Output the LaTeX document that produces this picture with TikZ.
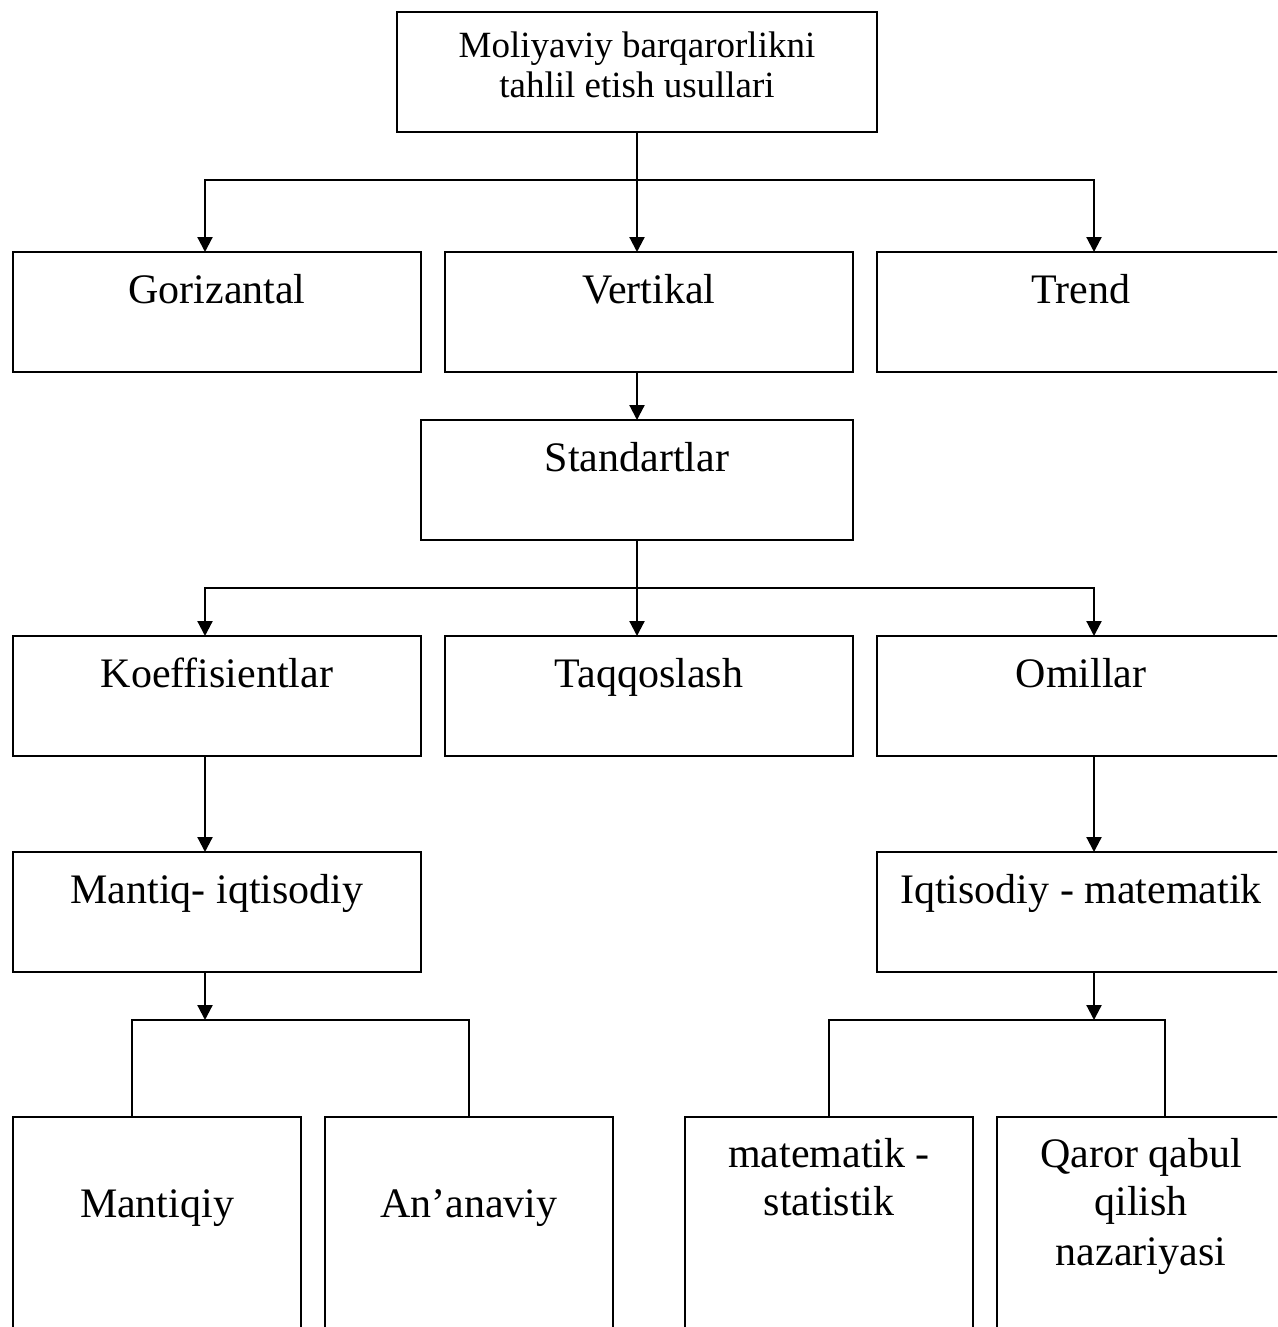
\documentclass[tikz,border=0pt]{standalone}
\usepackage{fontspec}
\setmainfont{Liberation Serif}
\usetikzlibrary{arrows.meta}
\begin{document}
\begin{tikzpicture}[x=1pt,y=-1pt, line width=2.5pt,
  box/.style={draw, rectangle, anchor=north west, inner sep=0pt, outer sep=0pt},
  wbox/.style={box, minimum width=408pt, minimum height=120pt},
  sbox/.style={box, minimum width=288pt, minimum height=260pt},
  lbl/.style={anchor=base, inner sep=0pt, font=\fontsize{42}{48}\selectfont},
  tlbl/.style={anchor=base, inner sep=0pt, font=\fontsize{37}{42}\selectfont},
  arr/.style={-{Triangle[length=15pt,width=15pt]}, line width=2.2pt},
  ln/.style={line width=2.2pt}]
\useasboundingbox (0,0) rectangle (1277,1327);
\clip (0,0) rectangle (1277,1327);

% boxes
\node[box, minimum width=480pt, minimum height=120pt] (top) at (397,12) {};
\node[wbox] (gor) at (13,252) {};
\node[wbox] (ver) at (445,252) {};
\node[wbox] (tre) at (877,252) {};
\node[box, minimum width=432pt, minimum height=120pt] (std) at (421,420) {};
\node[wbox] (koe) at (13,636) {};
\node[wbox] (taq) at (445,636) {};
\node[wbox] (omi) at (877,636) {};
\node[wbox] (man) at (13,852) {};
\node[wbox] (iqt) at (877,852) {};
\node[sbox] (mq) at (13,1117) {};
\node[sbox] (an) at (325,1117) {};
\node[sbox] (ms) at (685,1117) {};
\node[sbox] (qq) at (997,1117) {};

% texts
\node[tlbl] (t0a) at ([yshift=-46pt]top.north) {Moliyaviy barqarorlikni};
\node[tlbl] (t0b) at ([yshift=-86pt]top.north) {tahlil etish usullari};
\node[lbl] (t1) at ([yshift=-51pt]gor.north) {Gorizantal};
\node[lbl] (t2) at ([yshift=-51pt]ver.north) {Vertikal};
\node[lbl] (t3) at ([yshift=-51pt]tre.north) {Trend};
\node[lbl] (t4) at ([yshift=-51pt]std.north) {Standartlar};
\node[lbl] (t5) at ([yshift=-51pt]koe.north) {Koeffisientlar};
\node[lbl] (t6) at ([yshift=-51pt]taq.north) {Taqqoslash};
\node[lbl] (t7) at ([yshift=-51pt]omi.north) {Omillar};
\node[lbl] (t8) at ([yshift=-51pt]man.north) {Mantiq- iqtisodiy};
\node[lbl] (t9) at ([yshift=-51pt]iqt.north) {Iqtisodiy - matematik};
\node[lbl] (t10) at ([yshift=-100pt]mq.north) {Mantiqiy};
\node[lbl] (t11) at ([yshift=-100pt]an.north) {An’anaviy};
\node[lbl] (t12a) at ([yshift=-50pt]ms.north) {matematik -};
\node[lbl] (t12b) at ([yshift=-98pt]ms.north) {statistik};
\node[lbl] (t13a) at ([yshift=-50pt]qq.north) {Qaror qabul};
\node[lbl] (t13b) at ([yshift=-98pt]qq.north) {qilish};
\node[lbl] (t13c) at ([yshift=-148pt]qq.north) {nazariyasi};

% junctions
\coordinate (j1) at (637,180);
\coordinate (jl) at (205,180);
\coordinate (jr) at (1094,180);
\coordinate (k1) at (637,588);
\coordinate (kl) at (205,588);
\coordinate (kr) at (1094,588);
\coordinate (m1) at (205,1020);
\coordinate (ml) at (132,1020);
\coordinate (mr) at (469,1020);
\coordinate (n1) at (1094,1020);
\coordinate (nl) at (829,1020);
\coordinate (nr) at (1165,1020);

% connectors
\draw[ln] (top.south) -- (j1);
\draw[ln] (jl |- gor.north) ++(0,-16) -- (jl) -- (jr) -- ++(0,56);
\draw[arr] (jl) -- (jl |- gor.north);
\draw[arr] (j1) -- (j1 |- ver.north);
\draw[arr] (jr) -- (jr |- tre.north);
\draw[arr] (j1 |- ver.south) -- (j1 |- std.north);
\draw[ln] (std.south -| k1) -- (k1);
\draw[ln] (kl |- koe.north) ++(0,-16) -- (kl) -- (kr) -- ++(0,32);
\draw[arr] (kl) -- (kl |- koe.north);
\draw[arr] (k1) -- (k1 |- taq.north);
\draw[arr] (kr) -- (kr |- omi.north);
\draw[arr] (kl |- koe.south) -- (kl |- man.north);
\draw[arr] (kr |- omi.south) -- (kr |- iqt.north);
\draw[arr] (kl |- man.south) -- (m1);
\draw[ln] (ml |- mq.north) -- (ml) -- (mr) -- (mr |- an.north);
\draw[arr] (kr |- iqt.south) -- (n1);
\draw[ln] (nl |- ms.north) -- (nl) -- (nr) -- (nr |- qq.north);
\end{tikzpicture}
\end{document}
